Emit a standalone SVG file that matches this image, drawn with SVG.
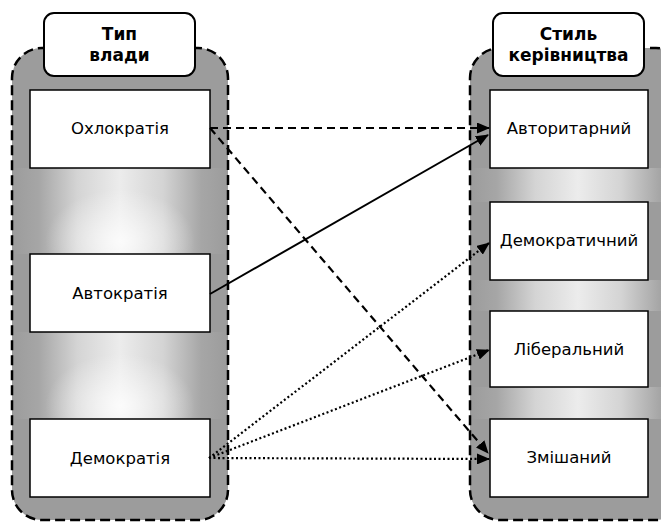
<svg xmlns="http://www.w3.org/2000/svg" width="661" height="522" viewBox="0 0 661 522">
  <defs>
    <linearGradient id="glowH" x1="0" y1="0" x2="1" y2="0">
      <stop offset="0" stop-color="#9c9c9c"/>
      <stop offset="0.12" stop-color="#a6a6a6"/>
      <stop offset="0.3" stop-color="#d4d4d4"/>
      <stop offset="0.5" stop-color="#ececec"/>
      <stop offset="0.7" stop-color="#d4d4d4"/>
      <stop offset="0.88" stop-color="#a6a6a6"/>
      <stop offset="1" stop-color="#9c9c9c"/>
    </linearGradient>
    <radialGradient id="glowR" cx="0.5" cy="0.85" r="0.5" gradientTransform="translate(0.5 0.85) scale(0.7 1.2) translate(-0.5 -0.85)">
      <stop offset="0" stop-color="#ffffff" stop-opacity="0.8"/>
      <stop offset="1" stop-color="#ffffff" stop-opacity="0"/>
    </radialGradient>
    <marker id="arr" markerUnits="userSpaceOnUse" markerWidth="13" markerHeight="11" refX="12" refY="5.5" orient="auto">
      <path d="M0,0 L13,5.5 L0,11 Z" fill="#000"/>
    </marker>
    <style>
      .cont { fill: #9c9c9c; }
      .cborder { fill: none; stroke: #000; stroke-width: 2.5; stroke-dasharray: 10 5; }
      .hdr { fill: #fff; stroke: #000; stroke-width: 2; }
      .box { fill: #fff; stroke: #000; stroke-width: 1.5; }
      .ht { font-family: "DejaVu Sans", Verdana, sans-serif; font-weight: bold; font-size: 17px; text-anchor: middle; fill: #000; }
      .bt { font-family: "DejaVu Sans", Verdana, sans-serif; font-size: 16.5px; text-anchor: middle; fill: #000; }
      .solid { stroke: #000; stroke-width: 2; fill: none; }
      .dash { stroke: #000; stroke-width: 2.2; fill: none; stroke-dasharray: 8 5; }
      .dot { stroke: #000; stroke-width: 2.2; fill: none; stroke-dasharray: 2 2.5; }
    </style>
  </defs>

  <g id="container-left">
    <rect class="cont" x="12" y="48" width="216" height="472" rx="30" ry="30"/>
    <rect x="13" y="168" width="214" height="86" fill="url(#glowH)"/>
    <rect x="13" y="168" width="214" height="86" fill="url(#glowR)"/>
    <rect x="13" y="332" width="214" height="87" fill="url(#glowH)"/>
    <rect x="13" y="332" width="214" height="87" fill="url(#glowR)"/>
    <rect class="cborder" x="12" y="48" width="216" height="472" rx="30" ry="30"/>
  </g>
  <g id="container-right">
    <rect class="cont" x="470" y="48" width="216" height="472" rx="30" ry="30"/>
    <rect x="471" y="168" width="214" height="34" fill="url(#glowH)"/>
    <rect x="471" y="280" width="214" height="31" fill="url(#glowH)"/>
    <rect x="471" y="387" width="214" height="32" fill="url(#glowH)"/>
    <rect class="cborder" x="470" y="48" width="216" height="472" rx="30" ry="30"/>
  </g>

  <g id="header-left">
    <rect class="hdr" x="44" y="13" width="151" height="63" rx="10" ry="10"/>
    <text class="ht" x="119.5" y="40">Тип</text>
    <text class="ht" x="119.5" y="61">влади</text>
  </g>
  <g id="header-right">
    <rect class="hdr" x="493" y="13" width="151" height="63" rx="10" ry="10"/>
    <text class="ht" x="568.5" y="40">Стиль</text>
    <text class="ht" x="568.5" y="61">керівництва</text>
  </g>

  <g id="ochlocracy">
    <rect class="box" x="30" y="90" width="180" height="78"/>
    <text class="bt" x="120" y="134">Охлократія</text>
  </g>
  <g id="autocracy">
    <rect class="box" x="30" y="254" width="180" height="78"/>
    <text class="bt" x="120" y="299">Автократія</text>
  </g>
  <g id="democracy">
    <rect class="box" x="30" y="419" width="180" height="78"/>
    <text class="bt" x="120" y="464">Демократія</text>
  </g>

  <g id="authoritarian">
    <rect class="box" x="490" y="90" width="158" height="78"/>
    <text class="bt" x="569" y="134">Авторитарний</text>
  </g>
  <g id="democratic">
    <rect class="box" x="490" y="202" width="158" height="78"/>
    <text class="bt" x="569" y="246">Демократичний</text>
  </g>
  <g id="liberal">
    <rect class="box" x="490" y="311" width="158" height="76"/>
    <text class="bt" x="569" y="355">Ліберальний</text>
  </g>
  <g id="mixed">
    <rect class="box" x="490" y="419" width="158" height="78"/>
    <text class="bt" x="569" y="463">Змішаний</text>
  </g>

  <g id="connectors">
    <line class="dash" x1="210" y1="128" x2="489" y2="128" marker-end="url(#arr)"/>
    <line class="dash" x1="210" y1="128" x2="488" y2="453" marker-end="url(#arr)"/>
    <line class="solid" x1="210" y1="294" x2="488" y2="135" marker-end="url(#arr)"/>
    <line class="dot" x1="209" y1="458" x2="489" y2="243" marker-end="url(#arr)"/>
    <line class="dot" x1="209" y1="458" x2="489" y2="350" marker-end="url(#arr)"/>
    <line class="dot" x1="209" y1="458" x2="489" y2="459" marker-end="url(#arr)"/>
  </g>
</svg>
